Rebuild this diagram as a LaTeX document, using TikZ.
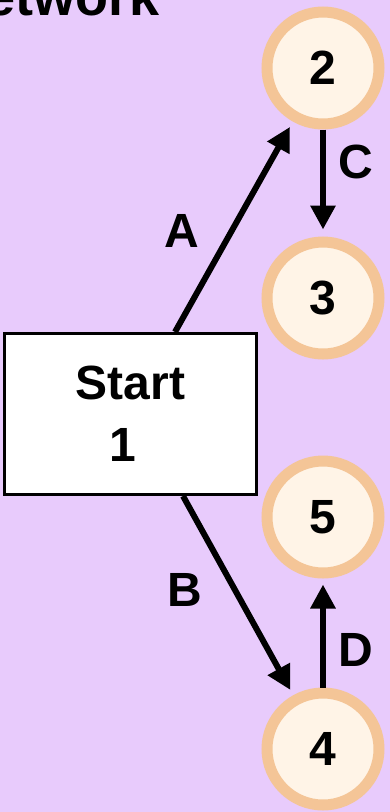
\documentclass[tikz,border=0pt]{standalone}
\usepackage{fontspec}
\setmainfont{Liberation Sans}
\usetikzlibrary{arrows.meta, calc, positioning}
\definecolor{netbg}{HTML}{E8CBFC}
\definecolor{evring}{HTML}{F4C597}
\definecolor{evfill}{HTML}{FFF4E7}
\tikzset{
  bigtext/.style  = {font=\fontsize{48}{62}\selectfont\bfseries},
  titletext/.style = {font=\fontsize{54}{62}\selectfont\bfseries},
  event/.style    = {circle, draw=evring, fill=evfill, line width=11pt,
                     minimum size=112pt, inner sep=0pt, bigtext},
  startbox/.style = {rectangle, draw=black, fill=white, line width=3pt,
                     minimum width=252pt, minimum height=161pt,
                     align=center, bigtext},
  act/.style      = {line width=6pt, -{Triangle[width=24pt, length=24pt]}},
  actlabel/.style = {bigtext, inner sep=2pt},
}

\begin{document}
\begin{tikzpicture}[x=1pt, y=-1pt]
    \fill[netbg] (0,0) rectangle (390,812);
    \useasboundingbox (0,0) rectangle (390,812);
    \node[titletext, anchor=base east, inner sep=0pt] (title) at (160,15) {Network};
    \node[startbox] (start) at (130.5,414) {Start\\1\hspace*{15pt}};
    \node[event] (n2) at (323,68) {2};
    \node[event] (n3) at (323,298) {3};
    \node[event] (n5) at (323,517) {5};
    \node[event] (n4) at (323,749) {4};
    \coordinate (aS) at ($(start.north)+(44.5,0)$);
    \coordinate (bS) at ($(start.south)+(52.5,0)$);
    \draw[act, shorten >=6pt] (aS) -- node[actlabel, pos=0.48, left=27pt] {A} (n2);
    \draw[act, shorten >=7pt] (n2) -- node[actlabel, pos=0.3, right=10pt] {C} (n3);
    \draw[act, shorten >=6pt] (bS) -- node[actlabel, pos=0.47, left=28pt] {B} (n4);
    \draw[act, shorten >=6pt] (n4) -- node[actlabel, pos=0.34, right=10pt] {D} (n5);
  \end{tikzpicture}
\end{document}
